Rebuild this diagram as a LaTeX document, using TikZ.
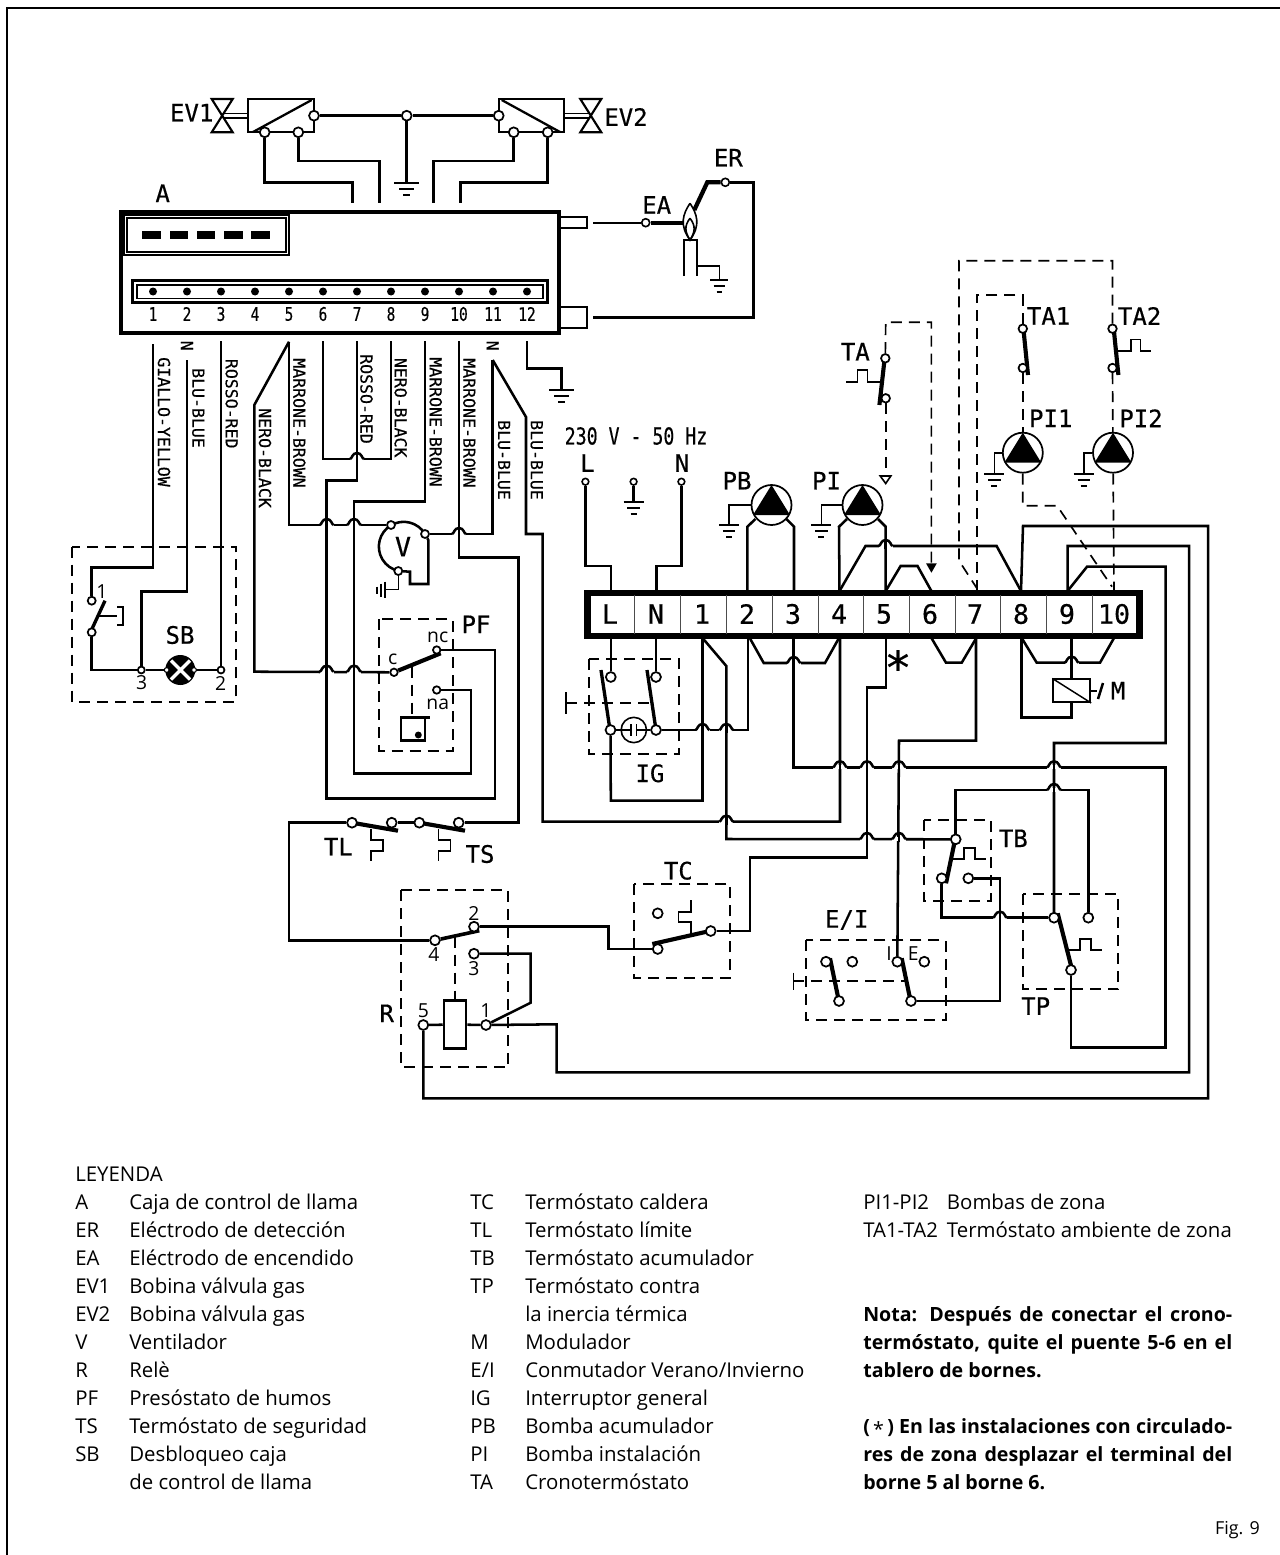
\documentclass[tikz,border=0pt]{standalone}
\usepackage{fontspec}
\setmainfont{Open Sans}
\newfontfamily\tech[FakeBold=0.45]{DejaVu Sans Mono}
\newfontfamily\technar[FakeStretch=0.78,FakeBold=0.35]{DejaVu Sans Mono}
\pgfdeclarelayer{wires}
\pgfsetlayers{wires,main}
\tikzset{
  wire/.style={line width=1.9pt,line join=miter},
  thinw/.style={line width=1.2pt,line join=miter},
  blade/.style={line width=3.1pt},
  dashw/.style={line width=1.25pt,dash pattern=on 8.2pt off 5.3pt},
  term/.style={circle,draw,fill=white,inner sep=0pt,minimum size=7.4pt,line width=1.3pt},
  sterm/.style={circle,draw,fill=white,inner sep=0pt,minimum size=5pt,line width=1.2pt},
  dot/.style={circle,fill=black,inner sep=0pt,minimum size=6pt},
  pumpc/.style={circle,draw,fill=white,inner sep=0pt,minimum size=30pt,line width=1.3pt},
  lab/.style={font=\tech\fontsize{18}{20}\selectfont,inner sep=0pt},
  vlab/.style={font=\tech\fontsize{12.4}{14}\selectfont,inner sep=0pt,rotate=-90},
  numlab/.style={font=\technar\fontsize{14}{16}\selectfont,inner sep=0pt},
  blab/.style={font=\tech\fontsize{20}{22}\selectfont,inner sep=0pt},
  slab/.style={font=\fontsize{14.5}{16}\selectfont,inner sep=0pt},
  lgd/.style={anchor=base west,inner sep=0pt,font=\fontsize{15.3}{18}\selectfont},
  note/.style={anchor=base west,inner sep=0pt,font=\bfseries\fontsize{14.7}{18}\selectfont},
  dbox/.style={line width=1.25pt,dash pattern=on 8.2pt off 5.3pt}
}
\newcommand\hop[2]{%
  \draw[white,line width=3pt] (#1-7,#2) -- (#1+7,#2);
  \draw[wire] (#1-7,#2) .. controls (#1-5,#2) and (#1-5,#2-6) .. (#1,#2-6) .. controls (#1+5,#2-6) and (#1+5,#2) .. (#1+7,#2);
  \draw[wire] (#1,#2-7) -- (#1,#2+3);}
\newcommand\gnd[3]{%
  \draw[line width=1.6pt] (#1-#3,#2) -- (#1+#3,#2);
  \draw[line width=1.6pt] (#1-.62*#3,#2+6) -- (#1+.62*#3,#2+6);
  \draw[line width=1.6pt] (#1-.3*#3,#2+12) -- (#1+.3*#3,#2+12);}
\newcommand\tri[2]{\fill (#1,#2-20) -- (#1+18.5,#2+10) -- (#1-18.5,#2+10) -- cycle;}
\newcommand\stepsym[4]{\draw[thinw] (#1,#2) -- (#1+#3,#2) -- (#1+#3,#2-#4) -- (#1+#3+11,#2-#4) -- (#1+#3+11,#2) -- (#1+#3+22,#2);}
\begin{document}
\begin{tikzpicture}[x=0.75pt,y=-0.75pt]
\useasboundingbox (0,0) rectangle (1280,1555);
\draw[line width=1.4pt] (7,1555) -- (7,8) -- (1280,8);

% ---- flame control box A
\draw[line width=3pt] (120.5,212.5) rectangle (559,333);
\fill (119,211) rectangle (290,256);
\fill[white] (124.5,216) rectangle (288,253.7);
\draw[line width=1.2pt] (127,218) rectangle (286,252);
\foreach \x in {142.3,169.5,196.7,224,251.3} \fill (\x,230.7) rectangle (\x+18.6,238.7);
\draw[line width=1.6pt] (132.5,280.5) rectangle (547.5,302.5);
\draw[line width=1.2pt] (137,285) rectangle (543,298.5);
\foreach \i/\x in {1/153,2/187,3/221,4/255,5/289,6/323,7/357,8/391,9/425,10/459,11/493,12/527}{
  \node[dot] (d\i) at (\x,291.5) {};
  \node[numlab] (n\i) at (\x,314) {\i};
}
\draw[line width=1.5pt] (560,217) -- (587,217) -- (587,228.3) -- (560,228.3);
\draw[line width=1.5pt] (560,307) -- (587,307) -- (587,328) -- (560,328);
\node[lab] (lA) at (162.7,193.3) {A};

% ---- gas valves
\draw[line width=1.7pt,fill=white] (248.3,99) rectangle (314,132.3);
\draw[line width=1.7pt] (253,132) -- (311.7,100);
\draw[line width=1.7pt,fill=white] (498.7,99) rectangle (564,132.3);
\draw[line width=1.7pt] (501.7,100) -- (560,132);
\node[term] (ev1r) at (314,115.7) {};
\node[term] (ev1a) at (264.7,132.3) {};
\node[term] (ev1c) at (298.3,132.3) {};
\node[term] (evm)  at (406.7,115.7) {};
\node[term] (ev2l) at (498.7,115.7) {};
\node[term] (ev2a) at (513.7,132.3) {};
\node[term] (ev2c) at (547.7,132.3) {};
\draw[line width=1.2pt] (223,113.4) -- (248,113.4) (223,118) -- (248,118);
\draw[line width=1.2pt] (564,113.4) -- (590,113.4) (564,118) -- (590,118);
\draw[line width=1.6pt,fill=white] (211.7,99) -- (232.7,99) -- (211.7,132.3) -- (232.7,132.3) -- cycle;
\draw[line width=1.6pt,fill=white] (580.3,99) -- (601.3,99) -- (580.3,132.3) -- (601.3,132.3) -- cycle;
\node[lab] (lEV1) at (191.7,112.7) {EV1};
\node[lab] (lEV2) at (626,117) {EV2};
\gnd{406.7}{182.7}{12.3}

% ---- electrodes
\node[sterm,minimum size=6pt] (er) at (725.3,182.3) {};
\node[sterm,minimum size=6pt] (ea) at (645.7,222.7) {};
\node[lab] (lER) at (728.3,157.7) {ER};
\node[lab] (lEA) at (656.7,205) {EA};
\draw[line width=1.2pt,fill=white] (690,203.3) .. controls (683,214) and (679,225) .. (690,240) .. controls (701,225) and (697,214) .. (690,203.3);
\draw[line width=1.2pt] (690,218.3) .. controls (684,226) and (685,232) .. (690,240) .. controls (695,232) and (696,226) .. (690,218.3);
\draw[line width=1.2pt] (684,276) -- (684,240) -- (696.7,240) -- (696.7,276);
\draw[line width=1.2pt] (697,266) -- (719.3,266) -- (719.3,280);
\gnd{719.3}{280}{9}

% ---- SB box
\draw[dbox] (72.3,546.7) rectangle (236,701.7);
\node[term,minimum size=6pt] (sw1t) at (91.7,600.7) {};
\node[term,minimum size=6pt] (sw1b) at (91.7,632.3) {};
\node[term,minimum size=5.2pt] (sb3) at (141.3,670) {};
\node[term,minimum size=5.2pt] (sb2) at (221,670) {};
\node[circle,fill=black,inner sep=0pt,minimum size=22.5pt] (lamp) at (180.3,670) {};
\draw[white,line width=2.6pt] (171,660.5) -- (190,679.5) (171,679.5) -- (190,660.5);
\node[sterm,minimum size=3.6pt,line width=.8pt] (sbl) at (166.7,670) {};
\node[sterm,minimum size=3.6pt,line width=.8pt] (sbr) at (194,670) {};
\node[lab] (lSB) at (180,635) {SB};
\node[slab] (l1s) at (102,591.7) {1};
\node[slab] (l3s) at (141.7,683) {3};
\node[slab] (l2s) at (220.7,683) {2};

% ---- wire colour labels
\node[vlab] (nA) at (187,345.7) {N};
\node[vlab] (nB) at (492.7,345.7) {N};
\node[vlab] (c1) at (164,422) {GIALLO-YELLOW};
\node[vlab] (c2) at (198.3,408) {BLU-BLUE};
\node[vlab] (c3) at (231.7,403.7) {ROSSO-RED};
\node[vlab] (c4) at (265,458) {NERO-BLACK};
\node[vlab] (c5) at (299.3,423) {MARRONE-BROWN};
\node[vlab] (c6) at (366.5,399) {ROSSO-RED};
\node[vlab] (c7) at (400.7,407.7) {NERO-BLACK};
\node[vlab] (c8) at (435.7,422) {MARRONE-BROWN};
\node[vlab] (c9) at (469.3,423) {MARRONE-BROWN};
\node[vlab] (c10) at (504,460) {BLU-BLUE};
\node[vlab] (c11) at (536.7,460) {BLU-BLUE};

% ---- fan
\coordinate (vc) at (403,547);
\node[term,minimum size=6pt] (vl) at (391,525) {};
\node[term,minimum size=6pt] (vr) at (425,534) {};
\node[term,minimum size=6pt] (vb) at (398.3,571) {};
\node[lab,font=\tech\fontsize{20}{22}\selectfont] (lV) at (403,546.7) {V};

% ---- PF
\draw[dbox] (379,619.3) rectangle (452.7,750.7);
\node[term,minimum size=5.6pt] (pfc) at (394,672.3) {};
\node[term,minimum size=5.6pt] (pfnc) at (436.7,650) {};
\node[term,minimum size=5.6pt] (pfna) at (436.7,690) {};
\draw[line width=1.9pt,fill=white] (401,717.3) rectangle (425,740.7);
\draw[line width=1.9pt] (425,717.3) -- (430,717.3);
\fill (418.3,735) circle[radius=2.6pt];
\node[slab] (lc) at (392.7,659.3) {c};
\node[slab] (lnc) at (437.7,637.3) {nc};
\node[slab] (lna) at (437.7,704.3) {na};
\node[lab] (lPF) at (476,624.3) {PF};

% ---- TL / TS
\node[term] (tl1) at (352,822.7) {};
\node[term] (tl2) at (391.7,822.7) {};
\node[term] (ts1) at (419.3,822.7) {};
\node[term] (ts2) at (458.7,822.7) {};
\node[lab] (lTL) at (338.3,846.7) {TL};
\node[lab] (lTS) at (480,854) {TS};

% ---- relay
\draw[dbox] (401.3,890) rectangle (508.3,1067.3);
\node[term] (r4) at (435,940.3) {};
\node[term] (r2) at (474,926.7) {};
\node[term] (r3) at (474,953.7) {};
\node[term] (r5) at (423.3,1025) {};
\node[term] (r1) at (486,1025) {};
\node[draw,fill=white,line width=1.9pt,inner sep=0pt,minimum width=16.5pt,minimum height=35.7pt] (coil) at (455,1024.5) {};
\node[slab] (lr2) at (474,913.3) {2};
\node[slab] (lr4) at (434,955) {4};
\node[slab] (lr3) at (474,968.3) {3};
\node[slab] (lr5) at (423.3,1010.7) {5};
\node[slab] (lr1) at (486,1010.7) {1};
\node[lab] (lR) at (386.7,1013.3) {R};

% ---- TC
\draw[dbox] (634.3,884) rectangle (730,978.3);
\node[term] (tcl) at (657.7,949) {};
\node[term] (tcr) at (710.7,931) {};
\node[term] (tco) at (657.7,913.3) {};
\node[lab] (lTC) at (678.3,870.7) {TC};

% ---- terminal block
\draw[line width=4.7pt,fill=white] (587.6,593) rectangle (1139.6,635.8);
\foreach \x in {634.6,680.4,726.3,772,818,863.8,909.6,955.4,1000.4,1046.3,1092}
  \draw[line width=.7pt,black!70] (\x,595) -- (\x,634);
\foreach \t/\x in {L/610,N/656,1/702,2/747,3/793,4/839,5/884,6/930,7/975,8/1021,9/1067,10/1114}
  \node[blab] (blk\t) at (\x,614) {\t};
\foreach \n/\x in {L/610.8,N/656,1/702.5,2/748,3/793.7,4/840,5/885.8,7/976,8/1021.5,9/1071.7,10/1113.7}
  \coordinate (b\n) at (\x,638);
\foreach \n/\x in {L/610.8,N/656.5,2/747.4,3/794,4/839.5,5/885.7,6/931.4,8/1021,9/1067.6}
  \coordinate (t\n) at (\x,591);
\node[sterm] (ltL) at (585.4,481.7) {};
\node[sterm] (ltN) at (681.4,481.7) {};
\node[sterm] (ltG) at (633.6,481.7) {};
\node[font=\technar\fontsize{17.5}{20}\selectfont,inner sep=0pt] (l230) at (636,436) {230 V - 50 Hz};
\node[lab] (lL) at (587.5,463) {L};
\node[lab] (lN) at (682,463) {N};
\node[font=\tech\fontsize{34}{36}\selectfont,inner sep=0pt] (ast) at (898,667) {*};

% ---- IG
\draw[dbox] (588.8,659) rectangle (679,754);
\node[term] (igLt) at (610.8,677) {};
\node[term] (igRt) at (656,677) {};
\node[term] (igLb) at (610.5,730) {};
\node[term] (igRb) at (656,730) {};
\node[draw,circle,line width=1.2pt,inner sep=0pt,minimum size=19pt] (neon) at (633.8,730) {};
\node[lab] (lIG) at (650,773.3) {IG};

% ---- pumps
\node[pumpc] (pb) at (771.5,505) {};  \tri{771.5}{505}
\node[pumpc] (pi) at (862.5,505) {};  \tri{862.5}{505}
\node[pumpc] (pi1) at (1022.8,452.7) {}; \tri{1022.8}{452.7}
\node[pumpc] (pi2) at (1113,452.7) {}; \tri{1113}{452.7}
\node[lab] (lPB) at (737,480.7) {PB};
\node[lab] (lPI) at (826.5,480.7) {PI};
\node[lab] (lPI1) at (1050.7,418.3) {PI1};
\node[lab] (lPI2) at (1141,418.3) {PI2};

% ---- room thermostats
\node[term,minimum size=6.4pt] (tat) at (885.3,358.3) {};
\node[term,minimum size=6.4pt] (tab) at (885.7,398.3) {};
\node[term,minimum size=6.4pt] (ta1t) at (1022.8,328.7) {};
\node[term,minimum size=6.4pt] (ta1b) at (1022.8,368) {};
\node[term,minimum size=6.4pt] (ta2t) at (1112.5,328.7) {};
\node[term,minimum size=6.4pt] (ta2b) at (1112.5,368) {};
\node[lab] (lTA) at (855.3,351.7) {TA};
\node[lab] (lTA1) at (1048.6,316) {TA1};
\node[lab] (lTA2) at (1139.6,316) {TA2};

% ---- modulator
\node[draw,fill=white,line width=1.4pt,inner sep=0pt,minimum width=27.7pt,minimum height=17pt] (mod) at (1071.7,690.7) {};
\draw[line width=1.1pt] (mod.north west) -- (mod.south east);
\node[lab] (lM) at (1118,690.7) {M};

% ---- TB / TP / EI
\draw[dbox] (924,820) rectangle (990.7,900.7);
\node[term] (tbt) at (955.7,839.3) {};
\node[term] (tbl) at (941.7,878.3) {};
\node[term] (tbr) at (968.3,878.3) {};
\node[lab] (lTB) at (1013.3,838.3) {TB};
\draw[dbox] (1023.3,894) rectangle (1118.3,989.3);
\node[term] (tpl) at (1054,917.7) {};
\node[term] (tpr) at (1088.3,917.7) {};
\node[term] (tpb) at (1071,970) {};
\node[lab] (lTP) at (1035.7,1006) {TP};
\draw[dbox] (806,940) rectangle (945.7,1020);
\node[term] (ei1t) at (826,961.7) {};
\node[term] (ei1o) at (852.3,961.7) {};
\node[term] (eiI) at (897.3,961.7) {};
\node[term] (eiE) at (924.3,961.7) {};
\node[term] (ei1b) at (839,1001) {};
\node[term] (ei2b) at (911,1001) {};
\node[slab] (lI) at (889,953.3) {I};
\node[slab] (lE) at (913.3,953.3) {E};
\node[lab] (lEI) at (846.7,920) {E/I};

% ---- pins of box A
\foreach \n/\x/\y in {1/153/344,2/187/360,3/221/341,5/289/341.7,6/323/341,7/357/341,8/391/341,9/425/341,10/459/341,11/492.7/360,12/527/341}
  \coordinate (a\n) at (\x,\y);
\foreach \n/\x in {7/352.3,8/379.3,9/433.7,10/460.3}
  \coordinate (u\n) at (\x,203.3);

% ================= WIRES ===================
\begin{pgfonlayer}{wires}
\draw[wire] (ev1a) -- (264.7,182.3) -| (u7);
\draw[wire] (ev1c) -- (298.3,161) -| (u8);
\draw[wire] (ev2a) -- (513.7,161) -| (u9);
\draw[wire] (ev2c) -- (547.7,182.3) -| (u10);
\draw[wire] (ev1r) -- (evm) -- (ev2l);
\draw[wire] (evm) -- (406.7,182.7);

\draw[line width=1.5pt] (593.3,222.7) -- (ea);
\draw[line width=3.2pt] (ea) -- (685,222.7);
\draw[line width=3.2pt] (694.3,210) -- (707.3,182.3) -- (er);
\draw[wire] (er) -- (753.7,182.3) -- (753.7,317.7) -- (593.3,317.7);

\draw[wire] (a1) -- (153,567.7) -- (91.7,567.7) -- (sw1t);
\draw[wire] (a2) -- (187,591.7) -- (141.3,591.7) -- (sb3);
\draw[wire] (a3) -- (sb2);
\draw[wire] (sw1b) -- (91.7,670) -- (sb3);
\draw[wire] (sb3) -- (lamp);
\draw[wire] (lamp) -- (sb2);
\draw[blade,line width=2.5pt] (105,600.7) -- (90.7,631.7);
\draw[thinw] (98.3,616) -- (117,616);
\draw[thinw] (117,606.7) -- (122.7,606.7) -- (122.7,625) -- (117,625);

\draw[wire] (a5) -- (289,525) -- (vl);
\draw[wire] (a5) -- (254.3,405) -- (254.3,671.7) -- (pfc);
\draw[wire] (a6) -- (323,459) -- (391,459) -- (a8);
\draw[wire] (a7) -- (357,480.7) -- (326.7,480.7) -- (326.7,798.3) -- (495,798.3) -- (495,650) -- (pfnc);
\draw[wire] (a9) -- (425,501.7) -- (354,501.7) -- (354,773.3) -- (471,773.3) -- (471,690) -- (pfna);
\draw[wire] (a10) -- (459,557.7) -- (518.3,557.7) -- (518.3,822.7) -- (ts2);
\draw[wire] (a11) -- (492.7,534) -- (vr);
\draw[wire] (a11) -- (526,417) -- (526,534) -- (542.7,534) -- (542.7,821.7) -- (840,821.7) -- (b4);
\draw[wire] (a12) -- (527,368.3) -- (561.7,368.3) -- (561.7,390);
\gnd{561.7}{390}{12.3}
\hop{326.7}{525}\hop{354}{525}\hop{326.7}{671.7}\hop{354}{671.7}\hop{357}{459}\hop{459}{534}

% fan outline
\draw[wire] (vr.center) arc[start angle=30.6,end angle=258.9,radius=18.6pt];
\draw[wire] (vr) -- (428.3,540) -- (428.3,584) -- (410,584) -- (410,571.7) -- (vb);
\draw[thinw] (vb) -- (398.3,589.3) -- (385,589.3);
\draw[line width=1.6pt] (385,581.7) -- (385,598.3) (380.7,583.5) -- (380.7,596.5) (377,586.5) -- (377,593.5);

% PF
\draw[blade] (pfc) -- (440.7,653.3);
\draw[dbox] (412.3,666.7) -- (412.3,717);

% TL TS
\draw[wire] (tl1) -- (289,822.7) -- (289,940.3) -- (r4);
\draw[wire] (tl2) -- (ts1);
\draw[blade] (352,822.7) -- (398,830.7);
\draw[blade] (419.3,822.7) -- (465,830.7);
\draw[thinw] (371,829) -- (371,840) -- (382.7,840) -- (382.7,850.7) -- (371,850.7) -- (371,861);
\draw[thinw] (438.3,829) -- (438.3,840) -- (450.3,840) -- (450.3,850.7) -- (438.3,850.7) -- (438.3,861);

% relay
\draw[blade,line width=2.7pt] (r4) -- (479.3,930.7);
\draw[dbox] (454.7,936.7) -- (454.7,1000.7);
\draw[wire] (r3) -- (530.7,953.7) -- (530.7,1002.7) -- (r1);
\draw[wire] (r5) -- (coil);
\draw[wire] (coil) -- (r1);
\draw[wire] (r1) -- (556.7,1024.3) -- (556.7,1072.3) -- (1189,1072.3) -- (1189,546) -- (1067.6,546) -- (t9);
\draw[wire] (r5) -- (423.3,1098.3) -- (1208,1098.3) -- (1208,526) -- (1023,526) -- (t8);
\draw[wire] (r2) -- (608.3,926.7) -- (608.3,949) -- (tcl);

% TC
\draw[blade] (652.3,944) -- (706.7,931.7);
\draw[thinw] (690.7,935) -- (690.7,921.7) -- (678.3,921.7) -- (678.3,911.7) -- (690.7,911.7) -- (690.7,900);
\draw[wire] (tcr) -- (750,931) -- (750,857.7) -- (867,857.7) -- (867,687.3) -- (885.8,687.3) -- (b5);

% mains
\draw[wire] (tL) -- (610.8,566) -- (585.4,566) -- (ltL);
\draw[wire] (tN) -- (656.5,566) -- (681.4,566) -- (ltN);
\draw[wire] (ltG) -- (633.6,501.7);
\gnd{633.6}{501.7}{10}

% pumps
\draw[wire] (t2) -- (747.4,526.7) -- (755.4,519);
\draw[wire] (t3) -- (794,526.7) -- (786.3,519);
\draw[wire] (t4) -- (839,526.7) -- (847,519);
\draw[wire] (t5) -- (885.7,526.7) -- (878,519);
\draw[thinw] (pb) -- (729,505) -- (729,525); \gnd{729}{525}{10}
\draw[thinw] (pi) -- (821.4,505) -- (821.4,525); \gnd{821.4}{525}{10}
\draw[thinw] (pi1) -- (994.4,452.7) -- (994.4,474); \gnd{994.4}{474}{10}
\draw[thinw] (pi2) -- (1083.7,452.7) -- (1083.7,474); \gnd{1083.7}{474}{10}
\draw[wire] (t4) -- (865.5,546) -- (996.6,546) -- (t8);
\draw[wire] (t5) -- (900.6,566) -- (917.5,566) -- (t6);
\hop{885.7}{546}

% dashed control lines
\draw[dashw] (tat) -- (885.7,322.3) -- (931.4,322.3) -- (931.4,565);
\fill (926,563.3) -- (936.8,563.3) -- (931.4,572.7) -- cycle;
\draw[dashw] (tab) -- (885.7,478);
\draw[line width=1.2pt,fill=white] (880.2,476) -- (890.8,476) -- (885.7,483.5) -- cycle;
\draw[dashw] (ta1t) -- (1022.8,295) -- (976.7,295) -- (976.7,590);
\draw[dashw] (ta1b) -- (pi1);
\draw[dashw] (pi1) -- (1022.8,505.7) -- (1057,505.7) -- (1112,586.7);
\draw[dashw] (ta2t) -- (1112.5,260.7) -- (959,260.7) -- (959,560.7) -- (976.7,588);
\draw[dashw] (ta2b) -- (pi2);
\draw[dashw] (pi2) -- (1114,590);
\draw[blade] (884.5,360) -- (879.4,405);
\draw[thinw] (846.4,381.7) -- (857.4,381.7) -- (857.4,370) -- (867.6,370) -- (867.6,381.7) -- (880.2,381.7);
\draw[blade] (1023.7,331.7) -- (1028,375);
\draw[blade] (1114,331.7) -- (1118.4,375);
\draw[thinw] (1116.7,351) -- (1131,351) -- (1131,339.3) -- (1140.4,339.3) -- (1140.4,351) -- (1151.4,351);

% below the block
\draw[wire] (bL) -- (igLt);
\draw[wire] (bN) -- (igRt);
\draw[blade,line width=2.5pt] (601,670) -- (610,730);
\draw[blade,line width=2.5pt] (647,670) -- (656,730);
\draw[thinw] (566,692) -- (566,714);
\draw[dbox] (566,702.7) -- (652,702.7);
\draw[thinw] (igLb) -- (631,730) (631,724) -- (631,736) (636.5,724) -- (636.5,736) (636.5,730) -- (igRb);
\draw[wire] (igRb) -- (748,730) -- (b2);
\draw[wire] (b1) -- (702.5,800.7) -- (610.8,800.7) -- (igLb);
\draw[wire] (b1) -- (726.3,666) -- (726.3,839) -- (tbt);
\draw[wire] (750,638.5) -- (763.7,663) -- (825,663) -- (838.7,638.5);
\draw[wire] (b3) -- (793.7,767.3) -- (1165.5,767.3) -- (1165.5,1047.3) -- (1071,1047.3) -- (tpb);
\draw[wire] (b7) -- (976,740.7) -- (899,740.7) -- (eiI);
\draw[wire] (931.7,638.5) -- (946,662.7) -- (961.7,662.7) -- (976,638.5);
\draw[wire] (1022,638.5) -- (1036.7,662.7) -- (1100,662.7) -- (1113.7,638.5);
\draw[wire] (b9) -- (mod);
\draw[wire] (mod) -- (1071.7,717.7) -- (1021.5,717.7) -- (b8);
\draw[thinw] (1090,690.7) -- (1097,690.7);
\draw[line width=1.9pt] (1098,699) -- (1103,683);
\draw[wire] (t9) -- (1087,566.7) -- (1165.5,566.7) -- (1165.5,743) -- (1054,743) -- (1054,917.7) -- (tpl);

% TB / TP / EI
\draw[wire] (tbt) -- (955.7,790) -- (1088.3,790) -- (tpr);
\draw[wire] (tbl) -- (941.7,917.7) -- (tpl);
\draw[wire] (tbr) -- (1000,878.3) -- (1000,1001) -- (ei2b);
\draw[blade] (954.3,843.3) -- (946,883.3);
\stepsym{953.3}{859}{10.7}{11.3}
\draw[blade] (1057.7,913.3) -- (1071.7,968.3);
\stepsym{1068.3}{950}{11.7}{11}
\draw[blade] (830,958.3) -- (838.3,998.3);
\draw[blade] (901.7,958.3) -- (910,998.3);
\draw[thinw] (793.3,972.7) -- (793.3,990);
\draw[dbox] (793.3,981.3) -- (906,981.3);

\hop{702.5}{730}\hop{726.3}{730}\hop{726.3}{821.7}\hop{793.7}{663}\hop{1071.7}{662.7}
\hop{840}{767.3}\hop{867}{767.3}\hop{899}{767.3}\hop{1054}{767.3}
\hop{867}{839}\hop{899}{839}\hop{1054}{790}\hop{1000}{917.7}
\end{pgfonlayer}

% ================= LEGEND ===================
\node[lgd] (leyenda) at (75,1181) {LEYENDA};
\foreach \r/\k/\t in {0/A/Caja de control de llama,1/ER/Eléctrodo de detección,2/EA/Eléctrodo de encendido,3/EV1/Bobina válvula gas,4/EV2/Bobina válvula gas,5/V/Ventilador,6/R/Relè,7/PF/Presóstato de humos,8/TS/Termóstato de seguridad,9/SB/Desbloqueo caja,10/{}/de control de llama}{
  \node[lgd] (ka\r) at (75,1209+28*\r) {\k};
  \node[lgd] (ta\r) at (129,1209+28*\r) {\t};
}
\foreach \r/\k/\t in {0/TC/Termóstato caldera,1/TL/Termóstato límite,2/TB/Termóstato acumulador,3/TP/Termóstato contra,4/{}/la inercia térmica,5/M/Modulador,6/{E/I}/{Conmutador Verano/Invierno},7/IG/Interruptor general,8/PB/Bomba acumulador,9/PI/Bomba instalación,10/TA/Cronotermóstato}{
  \node[lgd] (kb\r) at (470,1209+28*\r) {\k};
  \node[lgd] (tb\r) at (525,1209+28*\r) {\t};
}
\node[lgd] (kc0) at (863,1209) {PI1-PI2};
\node[lgd] (tc0) at (946.7,1209) {Bombas de zona};
\node[lgd] (kc1) at (863,1237) {TA1-TA2};
\node[lgd] (tc1) at (946.7,1237) {Termóstato ambiente de zona};

\newcommand\jline[1]{\makebox[276.75pt][s]{#1}}
\node[note] (n1) at (863,1321) {\jline{Nota: Después de conectar el crono-}};
\node[note] (n2) at (863,1349) {\jline{termóstato, quite el puente 5-6 en el}};
\node[note] (n3) at (863,1377) {tablero de bornes.};
\node[note] (n4) at (863,1433) {\jline{(\,\raisebox{-.35ex}{\mdseries *}\,) En las instalaciones con circulado-}};
\node[note] (n5) at (863,1461) {\jline{res de zona desplazar el terminal del}};
\node[note] (n6) at (863,1489) {borne 5 al borne 6.};
\node[anchor=base east,inner sep=0pt,font=\fontsize{13.4}{15}\selectfont] (fig) at (1260,1534) {Fig. 9};
\end{tikzpicture}
\end{document}
